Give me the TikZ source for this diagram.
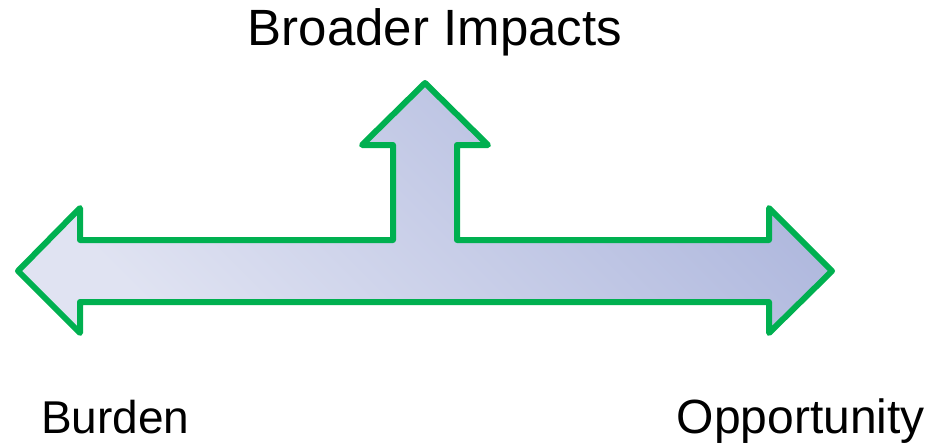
\documentclass[tikz,border=0pt]{standalone}
\usepackage{fontspec}
\setmainfont{Liberation Sans}
\definecolor{arrowgreen}{HTML}{00B050}
\definecolor{lightlav}{HTML}{E0E3F2}
\definecolor{darklav}{HTML}{AEB7DD}
\begin{document}
\begin{tikzpicture}[x=1pt,y=-1pt,label text/.style={font=\fontsize{48}{56}\selectfont,inner sep=0pt},big arrow/.style={draw=arrowgreen,line width=6pt,line join=round,top color=darklav,bottom color=lightlav,shading angle=-45}]
        \useasboundingbox (0,0) rectangle (940,444);

        \path[big arrow] (18,271) -- (80,208) -- (80,240) -- (393,240) -- (393,145) -- (362,145)
            -- (425,83) -- (488,145) -- (457,145) -- (457,240) -- (769,240) -- (769,208)
            -- (832,271) -- (769,333) -- (769,302) -- (80,302) -- (80,333) -- cycle;

        \node[label text, font=\fontsize{51}{60}\selectfont, anchor=base] at (435, 46) (impacts) {Broader Impacts};
        \node[label text, font=\fontsize{46}{54}\selectfont, anchor=base west] at (41, 433) (burden) {Burden};
        \node[label text, anchor=base east] at (925, 433) (opportunity) {Opportunity};
\end{tikzpicture}
\end{document}
